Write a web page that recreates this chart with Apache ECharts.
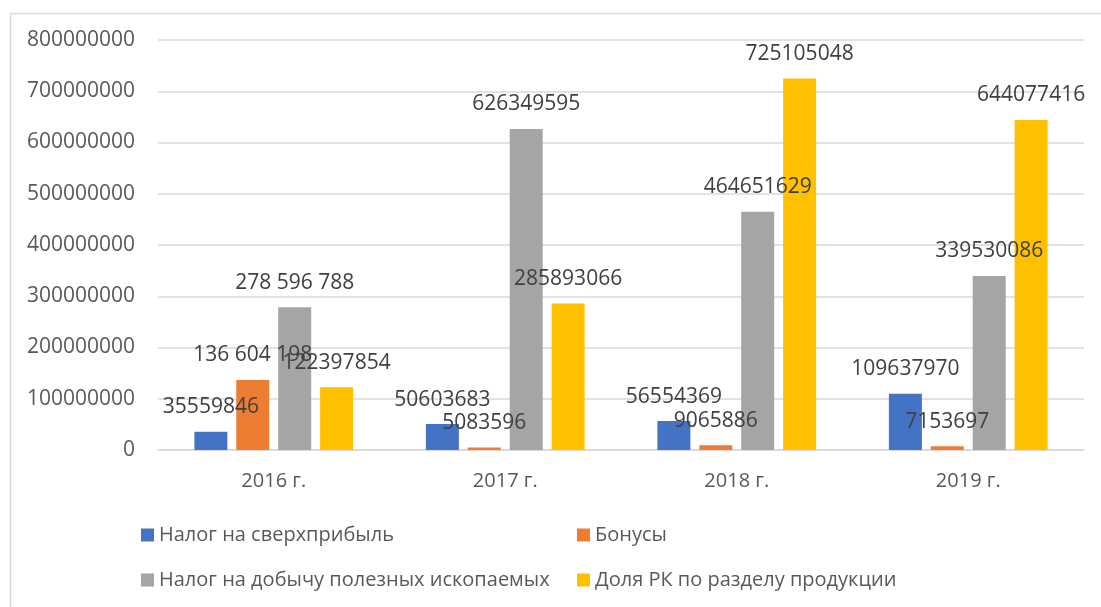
<!DOCTYPE html>
<html>
<head>
<meta charset="utf-8">
<script src="https://cdn.jsdelivr.net/npm/echarts@6/dist/echarts.min.js"></script>
<style>
  html, body { margin: 0; padding: 0; background: #fff; }
  #chart { width: 1101px; height: 607px; }
</style>
</head>
<body>
<div id="chart"></div>
<script>
const YEARS = ['2016 г.', '2017 г.', '2018 г.', '2019 г.'];
const SERIES_NAMES = [
  'Налог на сверхприбыль',
  'Бонусы',
  'Налог на добычу полезных ископаемых',
  'Доля РК по разделу продукции',
];
const EXCESS_PROFIT = [35559846, 50603683, 56554369, 109637970];
const BONUSES = [136604198, 5083596, 9065886, 7153697];
const MINING_TAX = [278596788, 626349595, 464651629, 339530086];
const PSA_SHARE = [122397854, 285893066, 725105048, 644077416];
const Y_TICKS = { min: 0, max: 800000000, interval: 100000000 };
// in the source only these two labels carry digit grouping
const GROUPED = { 1: [0], 2: [0] };

const COLORS = ['#4472C4', '#ED7D31', '#A5A5A5', '#FFC000'];
const TEXT = '#595959';
const FONT = "'Open Sans', 'Liberation Sans', sans-serif";

const groupDigits = v => String(v).replace(/\B(?=(\d{3})+(?!\d))/g, ' ');

const chart = echarts.init(document.getElementById('chart'));

const seriesData = [EXCESS_PROFIT, BONUSES, MINING_TAX, PSA_SHARE];
const legendBase = {
  top: 520, orient: 'vertical', itemGap: 25,
  icon: 'rect', itemWidth: 13, itemHeight: 13,
  textStyle: { color: TEXT, fontSize: 20, fontFamily: FONT },
};

chart.setOption({
  backgroundColor: '#fff',
  animation: false,
  textStyle: { fontFamily: FONT },
  graphic: [{
    type: 'rect',
    left: 8, top: 11,
    shape: { width: 1200, height: 700 },
    style: { fill: 'none', stroke: '#d9d9d9', lineWidth: 1.5 },
    silent: true,
  }],
  grid: { left: 158, right: 17, top: 40, bottom: 157, containLabel: false },
  legend: [
    { ...legendBase, left: 136, data: [SERIES_NAMES[0], SERIES_NAMES[2]] },
    { ...legendBase, left: 572, data: [SERIES_NAMES[1], SERIES_NAMES[3]] },
  ],
  xAxis: {
    type: 'category',
    data: YEARS,
    axisLine: { lineStyle: { color: '#d9d9d9', width: 1.5 } },
    axisTick: { show: false },
    axisLabel: { color: TEXT, fontSize: 20, margin: 21 },
  },
  yAxis: {
    type: 'value',
    ...Y_TICKS,
    axisLine: { show: false },
    axisTick: { show: false },
    splitLine: { lineStyle: { color: '#d9d9d9', width: 1.5 } },
    axisLabel: { color: TEXT, fontSize: 21, margin: 23, formatter: v => String(v) },
  },
  series: SERIES_NAMES.map((name, i) => ({
    name,
    type: 'bar',
    data: seriesData[i],
    barWidth: 33,
    barGap: '27%',
    itemStyle: { color: COLORS[i] },
    label: {
      show: true,
      position: 'top',
      distance: 14,
      color: '#404040',
      fontSize: 21,
      fontFamily: FONT,
      formatter: p => (GROUPED[i] || []).includes(p.dataIndex) ? groupDigits(p.value) : String(p.value),
    },
  })),
});
</script>
</body>
</html>
